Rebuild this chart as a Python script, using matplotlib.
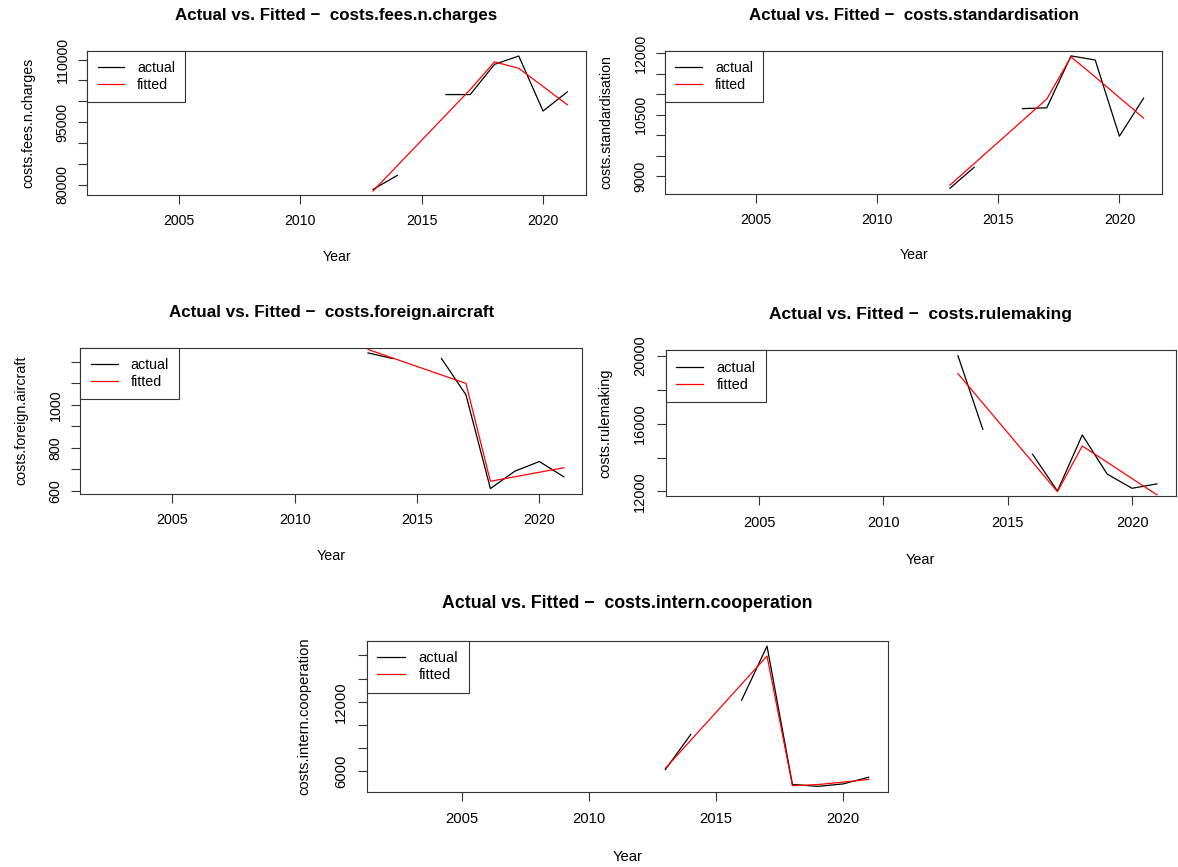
import numpy as np
import matplotlib
matplotlib.use("Agg")
import matplotlib.pyplot as plt

plt.rcParams['font.family'] = ['Liberation Sans', 'DejaVu Sans']

NA = np.nan
years = list(range(2002, 2022))
fit_years = [2013, 2017, 2018, 2019, 2020, 2021]

# observed series (missing before 2013 and in 2015)
early_gap = [NA] * 11  # 2002-2012
fees_actual = early_gap + [78850, 82200, NA, 101600, 101600, 108850, 110850, 97650, 102250]
std_actual = early_gap + [8700, 9215, NA, 10650, 10670, 11940, 11840, 9975, 10905]
aircraft_actual = early_gap + [1242, 1216, NA, 1216, 1047, 610, 691, 736, 665]
rule_actual = early_gap + [20020, 15670, NA, 14200, 12030, 15340, 13030, 12190, 12450]
coop_actual = early_gap + [6160, 9185, NA, 12135, 16800, 4875, 4705, 4920, 5495]

# fitted values
fees_fitted = [78450, 102800, 109450, 107900, 103550, 99150]
std_fitted = [8778, 10885, 11915, 11425, 10920, 10420]
aircraft_fitted = [1258, 1100, 644, 665, 686, 707]
rule_fitted = [18960, 11990, 14688, 13730, 12765, 11805]
coop_fitted = [6260, 15950, 4770, 4860, 5075, 5310]

series_names = ["costs.fees.n.charges", "costs.standardisation",
                "costs.foreign.aircraft", "costs.rulemaking",
                "costs.intern.cooperation"]

fees_ticks = [80000, 85000, 90000, 95000, 100000, 105000, 110000]
fees_labels = ["80000", "", "", "95000", "", "", "110000"]
std_ticks = [9000, 9500, 10000, 10500, 11000, 11500, 12000]
std_labels = ["9000", "", "", "10500", "", "", "12000"]
aircraft_ticks = [600, 700, 800, 900, 1000, 1100, 1200]
aircraft_labels = ["600", "", "800", "", "1000", "", ""]
rule_ticks = [12000, 14000, 16000, 18000, 20000]
rule_labels = ["12000", "", "16000", "", "20000"]
coop_ticks = [6000, 8000, 10000, 12000, 14000, 16000]
coop_labels = ["6000", "", "", "12000", "", ""]

year_ticks = [2005, 2010, 2015, 2020]
year_labels = ["2005", "2010", "2015", "2020"]

W, H = 1178, 867
fig = plt.figure(figsize=(W / 100, H / 100), dpi=100)

# panel boxes in pixels: left, right, top, bottom
boxes = [
    (87.4, 585.8, 50.7, 194.7),
    (665.3, 1162.0, 50.6, 193.6),
    (80.3, 582.4, 347.5, 494.0),
    (665.5, 1175.8, 350.3, 496.4),
    (366.5, 888.0, 640.5, 792.0),
]

panels = [
    (fees_actual, fees_fitted, fees_ticks, fees_labels),
    (std_actual, std_fitted, std_ticks, std_labels),
    (aircraft_actual, aircraft_fitted, aircraft_ticks, aircraft_labels),
    (rule_actual, rule_fitted, rule_ticks, rule_labels),
    (coop_actual, coop_fitted, coop_ticks, coop_labels),
]


def r_range(vals):
    v = np.asarray(vals, dtype=float)
    lo, hi = np.nanmin(v), np.nanmax(v)
    pad = 0.04 * (hi - lo)
    return lo - pad, hi + pad


for name, box, (act, fit, yt, yl) in zip(series_names, boxes, panels):
    L, R, T, B = box
    ax = fig.add_axes([L / W, 1 - B / H, (R - L) / W, (B - T) / H])
    wpx, hpx = R - L, B - T
    s = (wpx / 20.52) / 24.3  # scale relative to the first panel
    fs = 10.2 * s

    ax.plot(years, act, color="black", lw=0.9, label="actual")
    ax.plot(fit_years, fit, color="red", lw=0.9, label="fitted")

    ax.set_xlim(*r_range(years))
    ax.set_ylim(*r_range(act))

    ax.set_xticks(year_ticks)
    ax.set_xticklabels(year_labels, fontsize=fs)
    ax.set_yticks(yt)
    ax.set_yticklabels(yl, fontsize=fs, rotation=90, va="center", ha="right")
    ax.tick_params(axis="both", direction="out", length=6.5 * s, width=0.8,
                   color="#333333")
    ax.tick_params(axis="x", pad=7.3 * s)
    ax.tick_params(axis="y", pad=6.3 * s)
    for sp in ax.spines.values():
        sp.set_linewidth(0.8)
        sp.set_color("#333333")

    ax.set_xlabel("Year", fontsize=fs, va="center")
    ax.xaxis.set_label_coords(0.5, -62 * s / hpx)
    ax.set_ylabel(name, fontsize=fs, va="center")
    ax.yaxis.set_label_coords(-59 * s / wpx, 0.5)

    ax.text(0.5, 1 + 35 * s / hpx, "Actual vs. Fitted \u2212  " + name,
            transform=ax.transAxes, ha="center", va="center",
            fontsize=12.2 * s, fontweight="bold")

    leg = ax.legend(loc="upper left", bbox_to_anchor=(0, 1), borderaxespad=0,
                    fontsize=fs, frameon=True, fancybox=False, framealpha=1,
                    edgecolor="#333333", borderpad=0.72, handlelength=1.9,
                    handletextpad=0.9, labelspacing=0.2)
    leg.get_frame().set_linewidth(0.8)

fig.savefig("out.png", dpi=100)
